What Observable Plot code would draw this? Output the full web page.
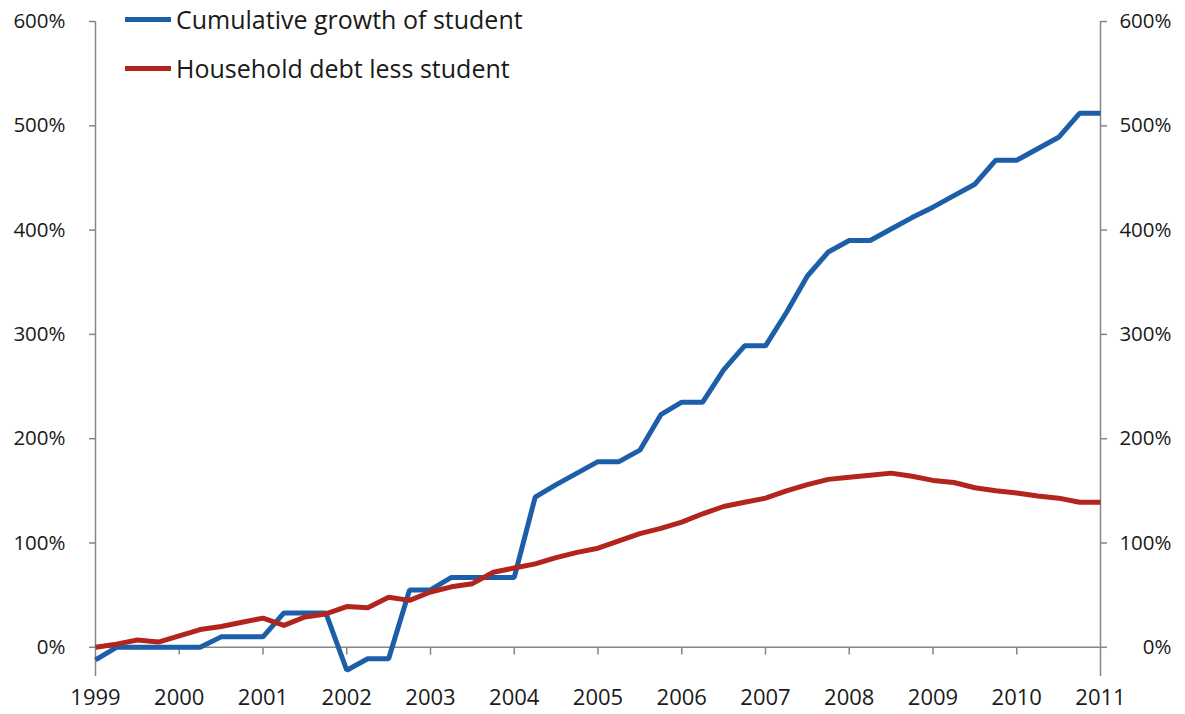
<!DOCTYPE html>
<html>
<head>
<meta charset="utf-8">
<script src="https://cdn.jsdelivr.net/npm/d3@7"></script>
<script src="https://cdn.jsdelivr.net/npm/@observablehq/plot@0.6"></script>
<style>
  html, body { margin: 0; padding: 0; background: #fff; }
  #wrap { position: relative; width: 1185px; height: 714px; }
  .legend { position: absolute; left: 125px; top: 0; font-family: "Open Sans", sans-serif; font-size: 25px; color: #1a1a1a; }
  .legend .item { position: absolute; left: 0; white-space: nowrap; display: flex; align-items: center; }
  .legend .sw { width: 46px; height: 5px; margin-right: 5px; }
</style>
</head>
<body>
<div id="wrap"></div>
<script>
// Data (quarterly, starting 1999 Q1), values in percent
const startYear = 1999;
const yearTicks = [1999, 2000, 2001, 2002, 2003, 2004, 2005, 2006, 2007, 2008, 2009, 2010, 2011];
const yTicks = [0, 1, 2, 3, 4, 5, 6];
const seriesNames = ["Cumulative growth of student", "Household debt less student"];
const seriesColors = ["#1c5ea8", "#b3241c"];
const studentGrowth = [
  -12, 0, 0, 0, 0, 0, 10, 10, 10, 33, 33, 33,
  -22, -11, -11, 55, 55, 67, 67, 67, 67, 144, 156, 167,
  178, 178, 189, 223, 235, 235, 266, 289, 289, 321, 356, 379,
  390, 390, 401, 412, 422, 433, 444, 467, 467, 478, 489, 512, 512
];
const householdLessStudent = [
  0, 3, 7, 5, 11, 17, 20, 24, 28, 21, 29, 32,
  39, 38, 48, 45, 53, 58, 61, 72, 76, 80, 86, 91,
  95, 102, 109, 114, 120, 128, 135, 139, 143, 150, 156, 161,
  163, 165, 167, 164, 160, 158, 153, 150, 148, 145, 143, 139, 139
];

const rows = [];
[studentGrowth, householdLessStudent].forEach((arr, s) => {
  arr.forEach((v, i) => rows.push({ t: startYear + i / 4, v: v / 100, series: seriesNames[s] }));
});

const axisColor = "#868686";
const font = "'Open Sans', sans-serif";

const chart = Plot.plot({
  width: 1185,
  height: 714,
  marginLeft: 95,
  marginRight: 85,
  marginTop: 21,
  marginBottom: 38,
  style: { fontFamily: font, fontSize: "20px", color: "#1a1a1a", background: "#fff" },
  x: { domain: [1999, 2011] },
  y: { domain: [-0.28, 6] },
  color: { domain: seriesNames, range: seriesColors },
  marks: [
    Plot.ruleX([1999, 2011], { stroke: axisColor, strokeWidth: 1.5 }),
    Plot.ruleY([0], { stroke: axisColor, strokeWidth: 1.5 }),
    Plot.ruleX(yearTicks.slice(1, -1), { y1: 0, y2: -0.075, stroke: axisColor, strokeWidth: 1.5 }),
    Plot.axisY(yTicks, { anchor: "left", tickFormat: d3.format(".0%"), tickSize: 6, tickPadding: 24, stroke: axisColor, strokeWidth: 1.5, fontSize: 20.5, fill: "#1a1a1a", label: null }),
    Plot.axisY(yTicks, { anchor: "right", tickFormat: d3.format(".0%"), tickSize: 6, tickPadding: 65, textAnchor: "end", stroke: axisColor, strokeWidth: 1.5, fontSize: 20.5, fill: "#1a1a1a", label: null }),
    Plot.axisX(yearTicks, { anchor: "bottom", tickSize: 0, tickPadding: 13, tickFormat: d => String(d), fontSize: 22, fill: "#1a1a1a", label: null }),
    Plot.line(rows, { x: "t", y: "v", z: "series", stroke: "series", strokeWidth: 5, strokeLinejoin: "miter", strokeLinecap: "butt" })
  ]
});

const wrap = document.getElementById("wrap");
wrap.appendChild(chart);

const legend = document.createElement("div");
legend.className = "legend";
seriesNames.forEach((name, i) => {
  const item = document.createElement("div");
  item.className = "item";
  item.style.top = (2 + i * 49) + "px";
  const sw = document.createElement("span");
  sw.className = "sw";
  sw.style.background = seriesColors[i];
  const tx = document.createElement("span");
  tx.textContent = name;
  item.appendChild(sw);
  item.appendChild(tx);
  legend.appendChild(item);
});
wrap.appendChild(legend);
</script>
</body>
</html>
